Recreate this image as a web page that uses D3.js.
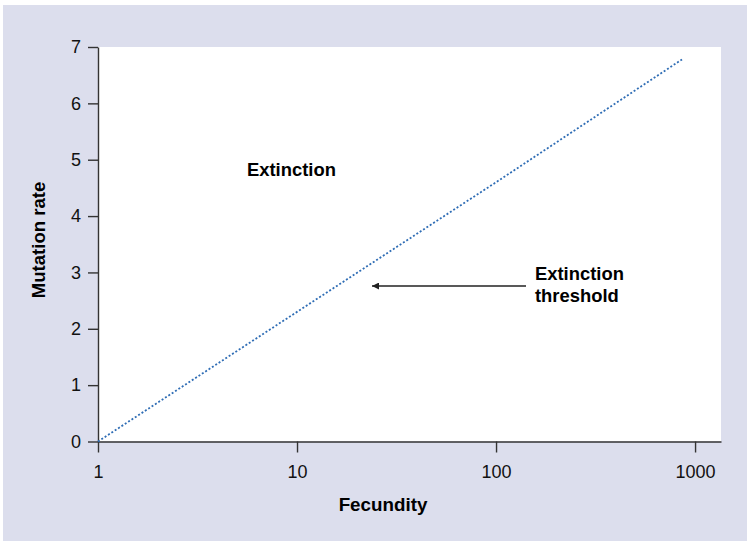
<!DOCTYPE html>
<html>
<head>
<meta charset="utf-8">
<script src="https://cdn.jsdelivr.net/npm/d3@7"></script>
<style>
  body { margin: 0; background: #fff; }
  svg { display: block; font-family: "Liberation Sans", Arial, sans-serif; }
</style>
</head>
<body>
<svg id="chart"></svg>
<script>
// values
const fecundity = [1, 10, 100, 860];
const mutationRate = [0, 2.3, 4.6, 6.78];
const xTicks = [1, 10, 100, 1000];
const yTicks = [0, 1, 2, 3, 4, 5, 6, 7];

const width = 750;
const height = 545;
const margin = { top: 47, right: 29, bottom: 103.5, left: 98 };

const svg = d3.select('#chart')
    .attr('width', width)
    .attr('height', height);

// lavender panel
svg.append('rect')
    .attr('x', 3).attr('y', 5)
    .attr('width', 744).attr('height', 536)
    .attr('fill', '#dcdeed');

const innerW = width - margin.left - margin.right;
const innerH = height - margin.top - margin.bottom;

const g = svg.append('g')
    .attr('transform', `translate(${margin.left},${margin.top})`);

g.append('rect')
    .attr('width', innerW)
    .attr('height', innerH)
    .attr('fill', '#fff');

const xScale = d3.scaleLog()
    .domain([1, 1350])
    .range([0, innerW]);

const yScale = d3.scaleLinear()
    .domain([0, 7])
    .range([innerH, 0]);

const xAxis = d3.axisBottom(xScale)
    .tickValues(xTicks)
    .tickFormat(d3.format('d'))
    .tickSize(11)
    .tickPadding(13)
    .tickSizeOuter(0);

const yAxis = d3.axisLeft(yScale)
    .tickValues(yTicks)
    .tickFormat(d3.format('d'))
    .tickSize(10)
    .tickPadding(7)
    .tickSizeOuter(0);

const xg = g.append('g')
    .attr('transform', `translate(0,${innerH})`)
    .call(xAxis);

const yg = g.append('g')
    .call(yAxis);

[xg, yg].forEach(ax => {
    ax.attr('font-family', null).attr('font-size', null);
    ax.select('.domain').attr('stroke', '#333').attr('stroke-width', 1.4);
    ax.selectAll('.tick line').attr('stroke', '#333').attr('stroke-width', 1.4);
    ax.selectAll('.tick text')
        .style('font-size', '18px')
        .style('fill', '#111');
});

// axis titles
svg.append('text')
    .attr('x', 383).attr('y', 511)
    .attr('text-anchor', 'middle')
    .style('font-size', '18.8px')
    .style('font-weight', 'bold')
    .text('Fecundity');

svg.append('text')
    .attr('transform', 'translate(45,240) rotate(-90)')
    .attr('text-anchor', 'middle')
    .style('font-size', '18.6px')
    .style('font-weight', 'bold')
    .text('Mutation rate');

// threshold line
const line = d3.line()
    .x((d, i) => xScale(fecundity[i]))
    .y(d => yScale(d));

g.append('path')
    .datum(mutationRate)
    .attr('fill', 'none')
    .attr('stroke', '#2f6db5')
    .attr('stroke-width', 1.8)
    .attr('stroke-dasharray', '2,2')
    .attr('d', line);

// annotations
svg.append('text')
    .attr('x', 247).attr('y', 176)
    .style('font-size', '18.4px')
    .style('font-weight', 'bold')
    .text('Extinction');

const label = svg.append('text')
    .attr('x', 535).attr('y', 280)
    .style('font-size', '18.4px')
    .style('font-weight', 'bold');
label.append('tspan').attr('x', 535).text('Extinction');
label.append('tspan').attr('x', 535).attr('dy', 22).text('threshold');

svg.append('defs').append('marker')
    .attr('id', 'head')
    .attr('viewBox', '0 0 10 10')
    .attr('refX', 10).attr('refY', 5)
    .attr('markerWidth', 9).attr('markerHeight', 7)
    .attr('markerUnits', 'userSpaceOnUse')
    .attr('orient', 'auto')
    .append('path')
    .attr('d', 'M0,0 L10,5 L0,10 Z')
    .attr('fill', '#222');

svg.append('line')
    .attr('x1', 526).attr('y1', 286)
    .attr('x2', 372).attr('y2', 286)
    .attr('stroke', '#222')
    .attr('stroke-width', 1.4)
    .attr('marker-end', 'url(#head)');
</script>
</body>
</html>
